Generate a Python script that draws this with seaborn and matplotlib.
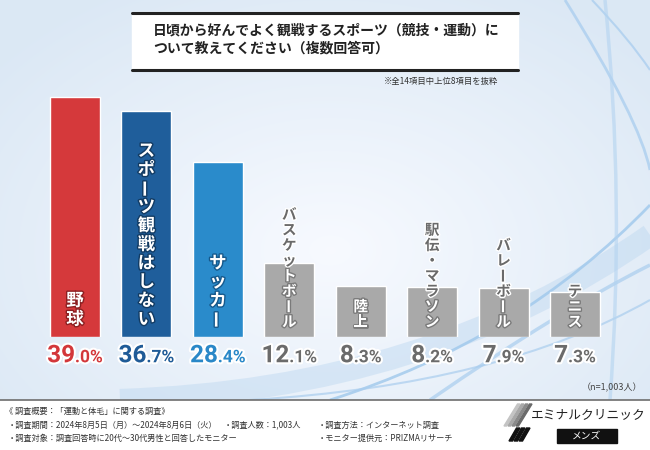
import numpy as np
import matplotlib
matplotlib.use("Agg")
import matplotlib.pyplot as plt
import matplotlib.patheffects as pe
from matplotlib.offsetbox import TextArea, HPacker, AnnotationBbox
from matplotlib.path import Path
from matplotlib.patches import PathPatch, Rectangle, Polygon
import seaborn as sns

# data
sports = ["野球", "スポーツ観戦はしない", "サッカー", "バスケットボール",
          "陸上", "駅伝・マラソン", "バレーボール", "テニス"]
shares = [39.0, 36.7, 28.4, 12.1, 8.3, 8.2, 7.9, 7.3]

bar_colors = ["#d5393b", "#1f5e9b", "#2a8bcb"] + ["#a9a9a9"] * 5
pct_colors = ["#d3373a", "#1f5b97", "#2a88c8"] + ["#6b6b6b"] * 5
edge_colors = ["#8c1f21", "#123b63", "#16598c"] + ["#7a7a7a"] * 5

title_lines = ["日頃から好んでよく観戦するスポーツ（競技・運動）に",
               "ついて教えてください（複数回答可）"]
note = "※全14項目中上位8項目を抜粋"
sample_note = "（n=1,003人）"
footer_lines = [
    (5, 411, "《 調査概要：「運動と体毛」に関する調査》"),
    (8, 425, "・調査期間：2024年8月5日（月）～2024年8月6日（火）"),
    (224, 425, "・調査人数：1,003人"),
    (318, 425, "・調査方法：インターネット調査"),
    (8, 438, "・調査対象：調査回答時に20代～30代男性と回答したモニター"),
    (318, 438, "・モニター提供元：PRIZMAリサーチ"),
]

sns.set_theme(style="white")
plt.rcParams["font.family"] = ["Noto Sans CJK JP", "DejaVu Sans"]

fig = plt.figure(figsize=(6.5, 4.5), dpi=100)

# background layer in pixel coordinates
bg = fig.add_axes([0, 0, 1, 1])
bg.set_xlim(0, 650)
bg.set_ylim(450, 0)
bg.axis("off")

yy, xx = np.mgrid[0:400, 0:650]
r = np.clip(np.sqrt(((xx - 330) / 430.0) ** 2 + ((yy - 250) / 300.0) ** 2), 0, 1)
edge = np.array([0.86, 0.91, 0.96])
white = np.array([0.97, 0.98, 1.0])
img = white[None, None, :] * (1 - r[..., None]) + edge[None, None, :] * r[..., None]
bg.imshow(img, extent=(0, 650, 400, 0), aspect="auto", zorder=0)


def curve(p0, p1, p2, lw, color, alpha):
    path = Path([p0, p1, p2], [Path.MOVETO, Path.CURVE3, Path.CURVE3])
    bg.add_patch(PathPatch(path, fill=False, lw=lw, color=color, alpha=alpha,
                           capstyle="butt", zorder=1))


curve((120, 400), (430, 390), (650, 235), 16, "#bcd7f0", 0.45)
curve((330, 400), (520, 340), (650, 205), 2.0, "#9fc8ec", 0.8)
curve((430, 400), (560, 310), (650, 265), 2.5, "#a9cdee", 0.7)
curve((250, 400), (500, 385), (650, 300), 1.5, "#a9cdee", 0.7)
curve((565, 0), (640, 120), (650, 170), 2.0, "#a5cbee", 0.7)
curve((592, 0), (630, 40), (650, 70), 1.5, "#a5cbee", 0.7)
curve((605, 0), (625, 200), (610, 400), 2.5, "#b3d3f0", 0.6)

bg.add_patch(Rectangle((0, 400), 650, 50, color="white", zorder=1))
bg.plot([0, 650], [399.5, 399.5], color="#6d6d6d", lw=1.2, zorder=2)

# title box
bg.add_patch(Rectangle((132, 12), 386, 58, color="white", zorder=2))
for y in (12.5, 69.5):
    bg.plot([132, 518], [y, y], color="#222222", lw=2.2, zorder=3)
for k, line in enumerate(title_lines):
    bg.text(153, 31 + k * 18, line, fontsize=10, fontweight="bold",
            color="#222222", ha="left", va="center", zorder=4)
bg.text(498, 81, note, fontsize=6, color="#333333", ha="right", va="center", zorder=4)
bg.text(642, 388, sample_note, fontsize=6.5, color="#444444", ha="right", va="center", zorder=4)

for x, y, s in footer_lines:
    bg.text(x, y, s, fontsize=5.9, color="#333333", ha="left", va="center", zorder=4)

# logo
for k, shade in enumerate(["#c4c4c4", "#a8a8a8", "#8a8a8a", "#6a6a6a"]):
    bg.add_patch(Polygon([(504 + 4 * k, 426), (506.5 + 4 * k, 426),
                          (520 + 4 * k, 404), (517.5 + 4 * k, 404)],
                         color=shade, zorder=4))
for k in range(3):
    bg.add_patch(Polygon([(509 + 5 * k, 441), (512.5 + 5 * k, 441),
                          (520 + 5 * k, 428), (516.5 + 5 * k, 428)],
                         color="#111111", zorder=4))
bg.text(531, 415, "エミナルクリニック", fontsize=9.2, color="#222222",
        ha="left", va="center", zorder=4)
bg.add_patch(Rectangle((557, 429), 60, 14, color="#111111", zorder=4))
bg.text(587, 436, "メンズ", fontsize=7, color="white", ha="center", va="center", zorder=5)

# bar chart
ax = fig.add_axes([39.3 / 650, 113 / 450, 571.4 / 650, 246 / 450])
sns.barplot(x=sports, y=shares, hue=sports, palette=bar_colors, width=0.7,
            saturation=1, legend=False, ax=ax, zorder=2)
ax.set_xlim(-0.5, len(sports) - 0.5)
ax.set_ylim(0, 40)
ax.axis("off")
ax.patch.set_alpha(0)

px = 72.0 / fig.dpi  # points per pixel


def vertical_label(i, text, value, colored):
    size = 12.5 if colored else 10.5
    pitch = 18.7 if colored else 15.3
    bottom = 17.5 if colored else 15.5
    bar_top = ax.transData.transform((i, value))[1] - ax.transData.transform((i, 0))[1]
    chars = list(text)
    n = len(chars)
    for k, ch in enumerate(chars):
        off = bottom + (n - 1 - k) * pitch
        inside = off + size / px * 0.35 < bar_top
        if colored or inside:
            fill, stroke = "white", edge_colors[i]
        else:
            fill, stroke = "#6a6a6a", "white"
        ax.annotate(ch, xy=(i, 0), xytext=(0, off * px), textcoords="offset points",
                    ha="center", va="center", fontsize=size, fontweight="bold",
                    color=fill, rotation=90 if ch == "ー" else 0,
                    path_effects=[pe.withStroke(linewidth=2, foreground=stroke)],
                    annotation_clip=False, zorder=5)


for i, (name, val) in enumerate(zip(sports, shares)):
    vertical_label(i, name, val, i < 3)
    whole, frac = f"{val:.1f}%".split(".")
    stroke = [pe.withStroke(linewidth=3, foreground="white")]
    big = TextArea(whole, textprops=dict(color=pct_colors[i], fontsize=17.5, fontweight="bold",
                                         family="Roboto", path_effects=stroke))
    small = TextArea("." + frac, textprops=dict(color=pct_colors[i], fontsize=12.5,
                                                fontweight="bold", family="Roboto",
                                                path_effects=stroke))
    pack = HPacker(children=[big, small], align="baseline", pad=0, sep=0)
    ab = AnnotationBbox(pack, (i, 0), xybox=(0, -13.5), xycoords="data",
                        boxcoords="offset points", frameon=False,
                        box_alignment=(0.5, 0.5), pad=0, annotation_clip=False)
    ax.add_artist(ab)

fig.savefig("out.png", dpi=100)
